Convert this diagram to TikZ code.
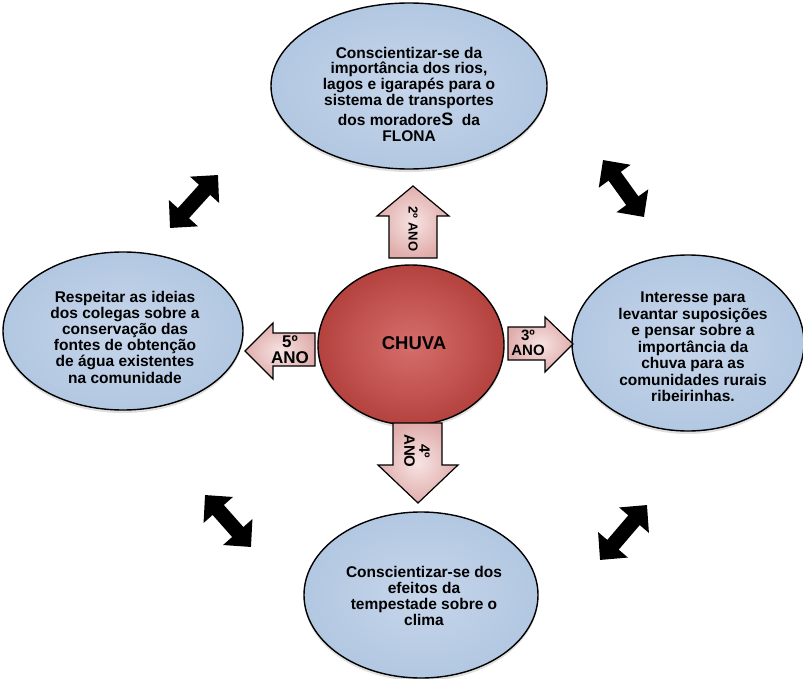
\documentclass[tikz,border=0pt]{standalone}
\usepackage{fontspec}
\setmainfont{Liberation Sans}
\usetikzlibrary{shapes.geometric,arrows.meta,shadows}

\definecolor{bluein}{HTML}{C6D6EB}
\definecolor{blueout}{HTML}{B2C7E1}
\definecolor{redin}{HTML}{D66E6B}
\definecolor{redout}{HTML}{B4423F}
\definecolor{pinkin}{HTML}{F6E4E3}
\definecolor{pinkout}{HTML}{E0ADAB}

\tikzset{
  goal/.style={ellipse, draw=black, line width=1.4pt, inner sep=0pt,
    shade, inner color=bluein, outer color=blueout,
    drop shadow={shadow xshift=0pt, shadow yshift=-3pt, opacity=0.25}},
  theme/.style={ellipse, draw=black, line width=1.4pt, inner sep=0pt,
    shade, inner color=redin, outer color=redout,
    drop shadow={shadow xshift=0pt, shadow yshift=-3pt, opacity=0.25},
    font=\bfseries\fontsize{18.5}{20}\selectfont},
  goaltext/.style={align=center, inner sep=0pt,
    font=\bfseries\fontsize{15.5}{15.8}\selectfont},
  yeararrow/.style={draw=black, line width=1.2pt, line join=miter,
    shade, inner color=pinkin, outer color=pinkout},
  yearlabel/.style={align=center, inner sep=0pt,
    font=\bfseries\fontsize{15}{15}\selectfont},
  link/.style={line width=15pt, {Triangle[width=38pt,length=20pt]}-{Triangle[width=38pt,length=20pt]}},
}

\begin{document}
\begin{tikzpicture}[x=1pt,y=-1pt]
\useasboundingbox (0,0) rectangle (803,679);

% centre theme and the four goals
\node[theme, minimum width=186pt, minimum height=160pt] (chuva) at (411,345) {};
\node[inner sep=0pt, font=\bfseries\fontsize{18.5}{20}\selectfont] (chuvatext) at (414,343) {CHUVA};

\node[goal, minimum width=276pt, minimum height=166pt] (top) at (409,86) {};
\node[goaltext] (toptext) at (409,94)
  {Conscientizar-se da\\importância dos rios,\\lagos e igarapés para o\\sistema de transportes\\[4pt]dos moradore{\fontsize{18}{18}\selectfont S}\ \ da\\FLONA};

\node[goal, minimum width=240pt, minimum height=158pt] (left) at (123,331) {};
\node[goaltext, font=\bfseries\fontsize{15.5}{16.2}\selectfont] (lefttext) at (125,337)
  {Respeitar as ideias\\dos colegas sobre a\\conservação das\\fontes de obtenção\\de água existentes\\na comunidade};

\node[goal, minimum width=232pt, minimum height=176pt] (right) at (688,343) {};
\node[goaltext, font=\bfseries\fontsize{15.5}{16.5}\selectfont] (righttext) at (693,347)
  {Interesse para\\levantar suposições\\e pensar sobre a\\importância da\\chuva para as\\comunidades rurais\\ribeirinhas.};

\node[goal, minimum width=234pt, minimum height=166pt] (bottom) at (421,595) {};
\node[goaltext] (bottomtext) at (424,596)
  {Conscientizar-se dos\\efeitos da\\tempestade sobre o\\clima};

% block arrows pointing from the theme to each goal
\draw[yeararrow] (389,258) -- (389,216) -- (377,216) -- (413,186) -- (449,216)
  -- (437,216) -- (437,258) -- cycle;
\node[yearlabel, rotate=-90, font=\bfseries\fontsize{13}{13}\selectfont] (y2) at (413,229) {2º ANO};

\draw[yeararrow] (315,333) -- (273,333) -- (273,323) -- (245,351) -- (273,379)
  -- (273,366) -- (315,366) -- cycle;
\node[yearlabel, font=\bfseries\fontsize{17}{16}\selectfont] (y5) at (290,350) {5º\\ANO};

\draw[yeararrow] (508,327) -- (545,327) -- (545,317) -- (573,344) -- (545,372)
  -- (545,360) -- (508,360) -- cycle;
\node[yearlabel] (y3) at (528,343) {3º\\ANO};

\draw[yeararrow] (393,423) -- (442,423) -- (442,465) -- (458,465) -- (418,503)
  -- (378,465) -- (393,465) -- cycle;
\node[yearlabel, rotate=-90] (y4) at (417,451) {4º\\ANO};

% double arrows between neighbouring goals
\coordinate (tla) at (170,228); \coordinate (tlb) at (218,175);
\coordinate (tra) at (603,160); \coordinate (trb) at (644,217);
\coordinate (bla) at (205,495); \coordinate (blb) at (251,547);
\coordinate (bra) at (600,560); \coordinate (brb) at (647,505);
\draw[link] (tla) -- (tlb);
\draw[link] (tra) -- (trb);
\draw[link] (bla) -- (blb);
\draw[link] (bra) -- (brb);
\end{tikzpicture}
\end{document}
